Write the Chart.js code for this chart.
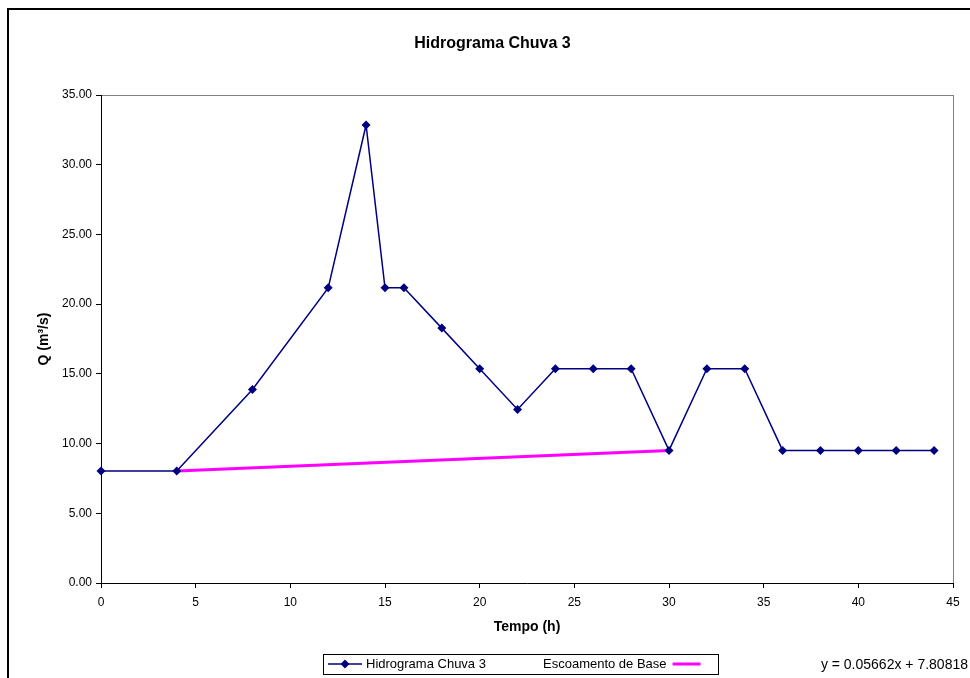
<!DOCTYPE html>
<html>
<head>
<meta charset="utf-8">
<script src="https://cdn.jsdelivr.net/npm/chart.js@4/dist/chart.umd.min.js"></script>
<style>
  body { margin: 0; background: #fff; }
  canvas { display: block; }
</style>
</head>
<body>
<canvas id="hidrograma" width="970" height="678"></canvas>
<script>
// tempo (h) e vazão
const tempo = [0, 4, 8, 12, 14, 15, 16, 18, 20, 22, 24, 26, 28, 30, 32, 34, 36, 38, 40, 42, 44];
const vazao = [8.03, 8.03, 13.88, 21.17, 32.85, 21.17, 21.17, 18.28, 15.37, 12.45, 15.37, 15.37, 15.37,
               9.51, 15.37, 15.37, 9.51, 9.51, 9.51, 9.51, 9.51];
// escoamento de base (reta entre início e fim do escoamento superficial)
const baseTempo = [4, 30];
const baseVazao = [8.03, 9.51];
const equacao = 'y = 0.05662x + 7.80818';

const fonte = "'Liberation Sans', Arial, sans-serif";
Chart.defaults.font.family = fonte;
Chart.defaults.font.size = 12;
Chart.defaults.color = '#000';

// moldura externa, borda cinza da área do gráfico, legenda e equação
const molduraPlugin = {
    id: 'moldura',
    beforeDraw(chart) {
        const ctx = chart.ctx;
        const a = chart.chartArea;
        ctx.save();
        ctx.strokeStyle = '#000';
        ctx.lineWidth = 2;
        ctx.strokeRect(8, 9, 1000, 700);
        ctx.strokeStyle = '#808080';
        ctx.lineWidth = 1;
        ctx.strokeRect(a.left + 0.5, a.top + 0.5, a.right - a.left, a.bottom - a.top);
        ctx.restore();
    },
    afterDraw(chart) {
        const ctx = chart.ctx;
        const ds0 = chart.data.datasets[0];
        const ds1 = chart.data.datasets[1];
        ctx.save();
        ctx.font = '13px ' + fonte;
        ctx.textBaseline = 'middle';
        ctx.fillStyle = '#000';

        const top = 654, h = 20, left = 323;
        const cy = top + h / 2;
        // item 1: linha com marcador
        ctx.strokeStyle = ds0.borderColor;
        ctx.lineWidth = 1.5;
        ctx.beginPath();
        ctx.moveTo(328, cy);
        ctx.lineTo(362, cy);
        ctx.stroke();
        ctx.fillStyle = ds0.pointBackgroundColor;
        ctx.beginPath();
        ctx.moveTo(345, cy - 4.5);
        ctx.lineTo(349.5, cy);
        ctx.lineTo(345, cy + 4.5);
        ctx.lineTo(340.5, cy);
        ctx.closePath();
        ctx.fill();
        ctx.fillStyle = '#000';
        ctx.textAlign = 'left';
        ctx.fillText(ds0.label, 366, cy);
        // item 2: texto seguido da linha
        const x2 = 543;
        ctx.fillText(ds1.label, x2, cy);
        const w2 = ctx.measureText(ds1.label).width;
        ctx.strokeStyle = ds1.borderColor;
        ctx.lineWidth = 3;
        ctx.beginPath();
        ctx.moveTo(x2 + w2 + 6, cy);
        ctx.lineTo(x2 + w2 + 34, cy);
        ctx.stroke();
        const right = Math.max(718, x2 + w2 + 44);
        ctx.strokeStyle = '#000';
        ctx.lineWidth = 1;
        ctx.strokeRect(left + 0.5, top + 0.5, right - left, h);

        // equação da reta
        ctx.font = '14px ' + fonte;
        ctx.textAlign = 'right';
        ctx.fillText(equacao, 968, cy + 1);
        ctx.restore();
    }
};

new Chart(document.getElementById('hidrograma'), {
    type: 'line',
    data: {
        datasets: [{
            label: 'Hidrograma Chuva 3',
            data: tempo.map((t, i) => ({ x: t, y: vazao[i] })),
            borderColor: '#000080',
            backgroundColor: '#000080',
            pointBackgroundColor: '#000080',
            pointBorderColor: '#000080',
            borderWidth: 1.5,
            pointStyle: 'rectRot',
            pointRadius: 4.5,
            pointBorderWidth: 0,
            tension: 0,
            clip: false
        }, {
            label: 'Escoamento de Base',
            data: baseTempo.map((t, i) => ({ x: t, y: baseVazao[i] })),
            borderColor: '#ff00ff',
            backgroundColor: '#ff00ff',
            borderWidth: 3,
            pointRadius: 0,
            tension: 0,
            clip: false
        }]
    },
    options: {
        responsive: false,
        animation: false,
        layout: {
            padding: { left: 32, right: 17, top: 0, bottom: 35 }
        },
        plugins: {
            legend: { display: false },
            tooltip: { enabled: false },
            title: {
                display: true,
                text: 'Hidrograma Chuva 3',
                font: { size: 16, weight: 'bold' },
                color: '#000',
                padding: { top: 34.4, bottom: 41.4 }
            }
        },
        scales: {
            x: {
                type: 'linear',
                min: 0,
                max: 45,
                ticks: { stepSize: 5, padding: 7, maxRotation: 0, color: '#000' },
                grid: { drawOnChartArea: false, drawTicks: true, tickLength: 5, color: '#000' },
                border: { color: '#000', width: 1 },
                title: {
                    display: true,
                    text: 'Tempo (h)',
                    font: { size: 14, weight: 'bold' },
                    color: '#000',
                    padding: { top: 0, bottom: 7.3 }
                },
                afterFit(scale) { scale.height = 60; }
            },
            y: {
                min: 0,
                max: 35,
                ticks: {
                    stepSize: 5,
                    padding: 4,
                    color: '#000',
                    callback: v => v.toFixed(2)
                },
                grid: { drawOnChartArea: false, drawTicks: true, tickLength: 5, color: '#000' },
                border: { color: '#000', width: 1 },
                title: {
                    display: true,
                    text: 'Q (m³/s)',
                    font: { size: 14, weight: 'bold' },
                    color: '#000',
                    padding: { top: 4, bottom: 0 }
                },
                afterFit(scale) { scale.width = 69; }
            }
        }
    },
    plugins: [molduraPlugin]
});
</script>
</body>
</html>
